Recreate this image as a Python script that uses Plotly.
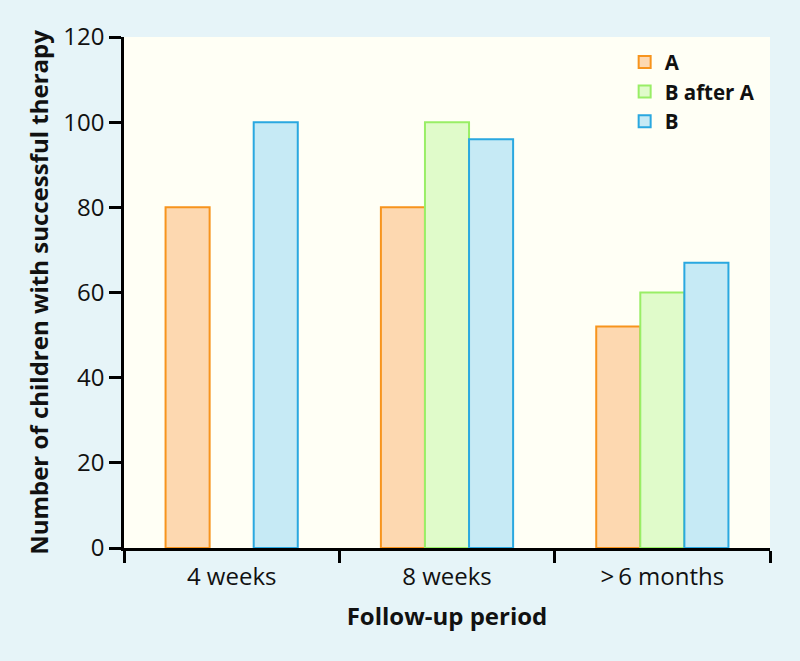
import plotly.graph_objects as go

categories = ["4 weeks", "8 weeks", ">\u20096 months"]
series_names = ["A", "B after A", "B"]
values_a = [80, 80, 52]
values_b_after_a = [None, 100, 60]
values_b = [100, 96, 67]
y_ticks = [0, 20, 40, 60, 80, 100, 120]

fills = ["#fdd8b0", "#e0fbca", "#c6eaf5"]
lines = ["#f7941d", "#99ee66", "#2aa8e0"]

fig = go.Figure()
for name, vals, fc, lc in zip(series_names, [values_a, values_b_after_a, values_b], fills, lines):
    fig.add_trace(go.Bar(x=categories, y=vals, name=name,
                         marker=dict(color=fc, line=dict(color=lc, width=2))))

fig.update_layout(
    width=800, height=661,
    barmode="group", bargap=0.386, bargroupgap=0,
    paper_bgcolor="#e6f4f8", plot_bgcolor="#fffff5",
    margin=dict(l=124, r=30, t=37, b=113),
    font=dict(family="Open Sans, sans-serif", size=24, color="#111"),
    legend=dict(x=0.775, y=0.99, xanchor="left", yanchor="top",
                bgcolor="rgba(0,0,0,0)", font=dict(size=20.5, color="#111", weight="bold"),
                tracegroupgap=0, itemwidth=30),
    showlegend=True,
)
fig.update_xaxes(
    showline=True, linecolor="black", linewidth=2.5, mirror=False,
    ticks="outside", tickson="boundaries", ticklen=12, tickwidth=2.5, tickcolor="black",
    ticklabelstandoff=5,
    showgrid=False,
    title=dict(text="<b>Follow-up period</b>", font=dict(size=24), standoff=18),
)
fig.update_yaxes(
    range=[0, 120], tickvals=y_ticks,
    showline=True, linecolor="black", linewidth=2.5,
    ticks="outside", ticklen=12, tickwidth=2.5, tickcolor="black",
    showgrid=False, zeroline=False,
    title=dict(text="<b>Number of children with successful therapy</b>", font=dict(size=24), standoff=8),
)
fig.write_html("out.html", config={"displayModeBar": False},
               post_script="document.body.style.margin='0';")
